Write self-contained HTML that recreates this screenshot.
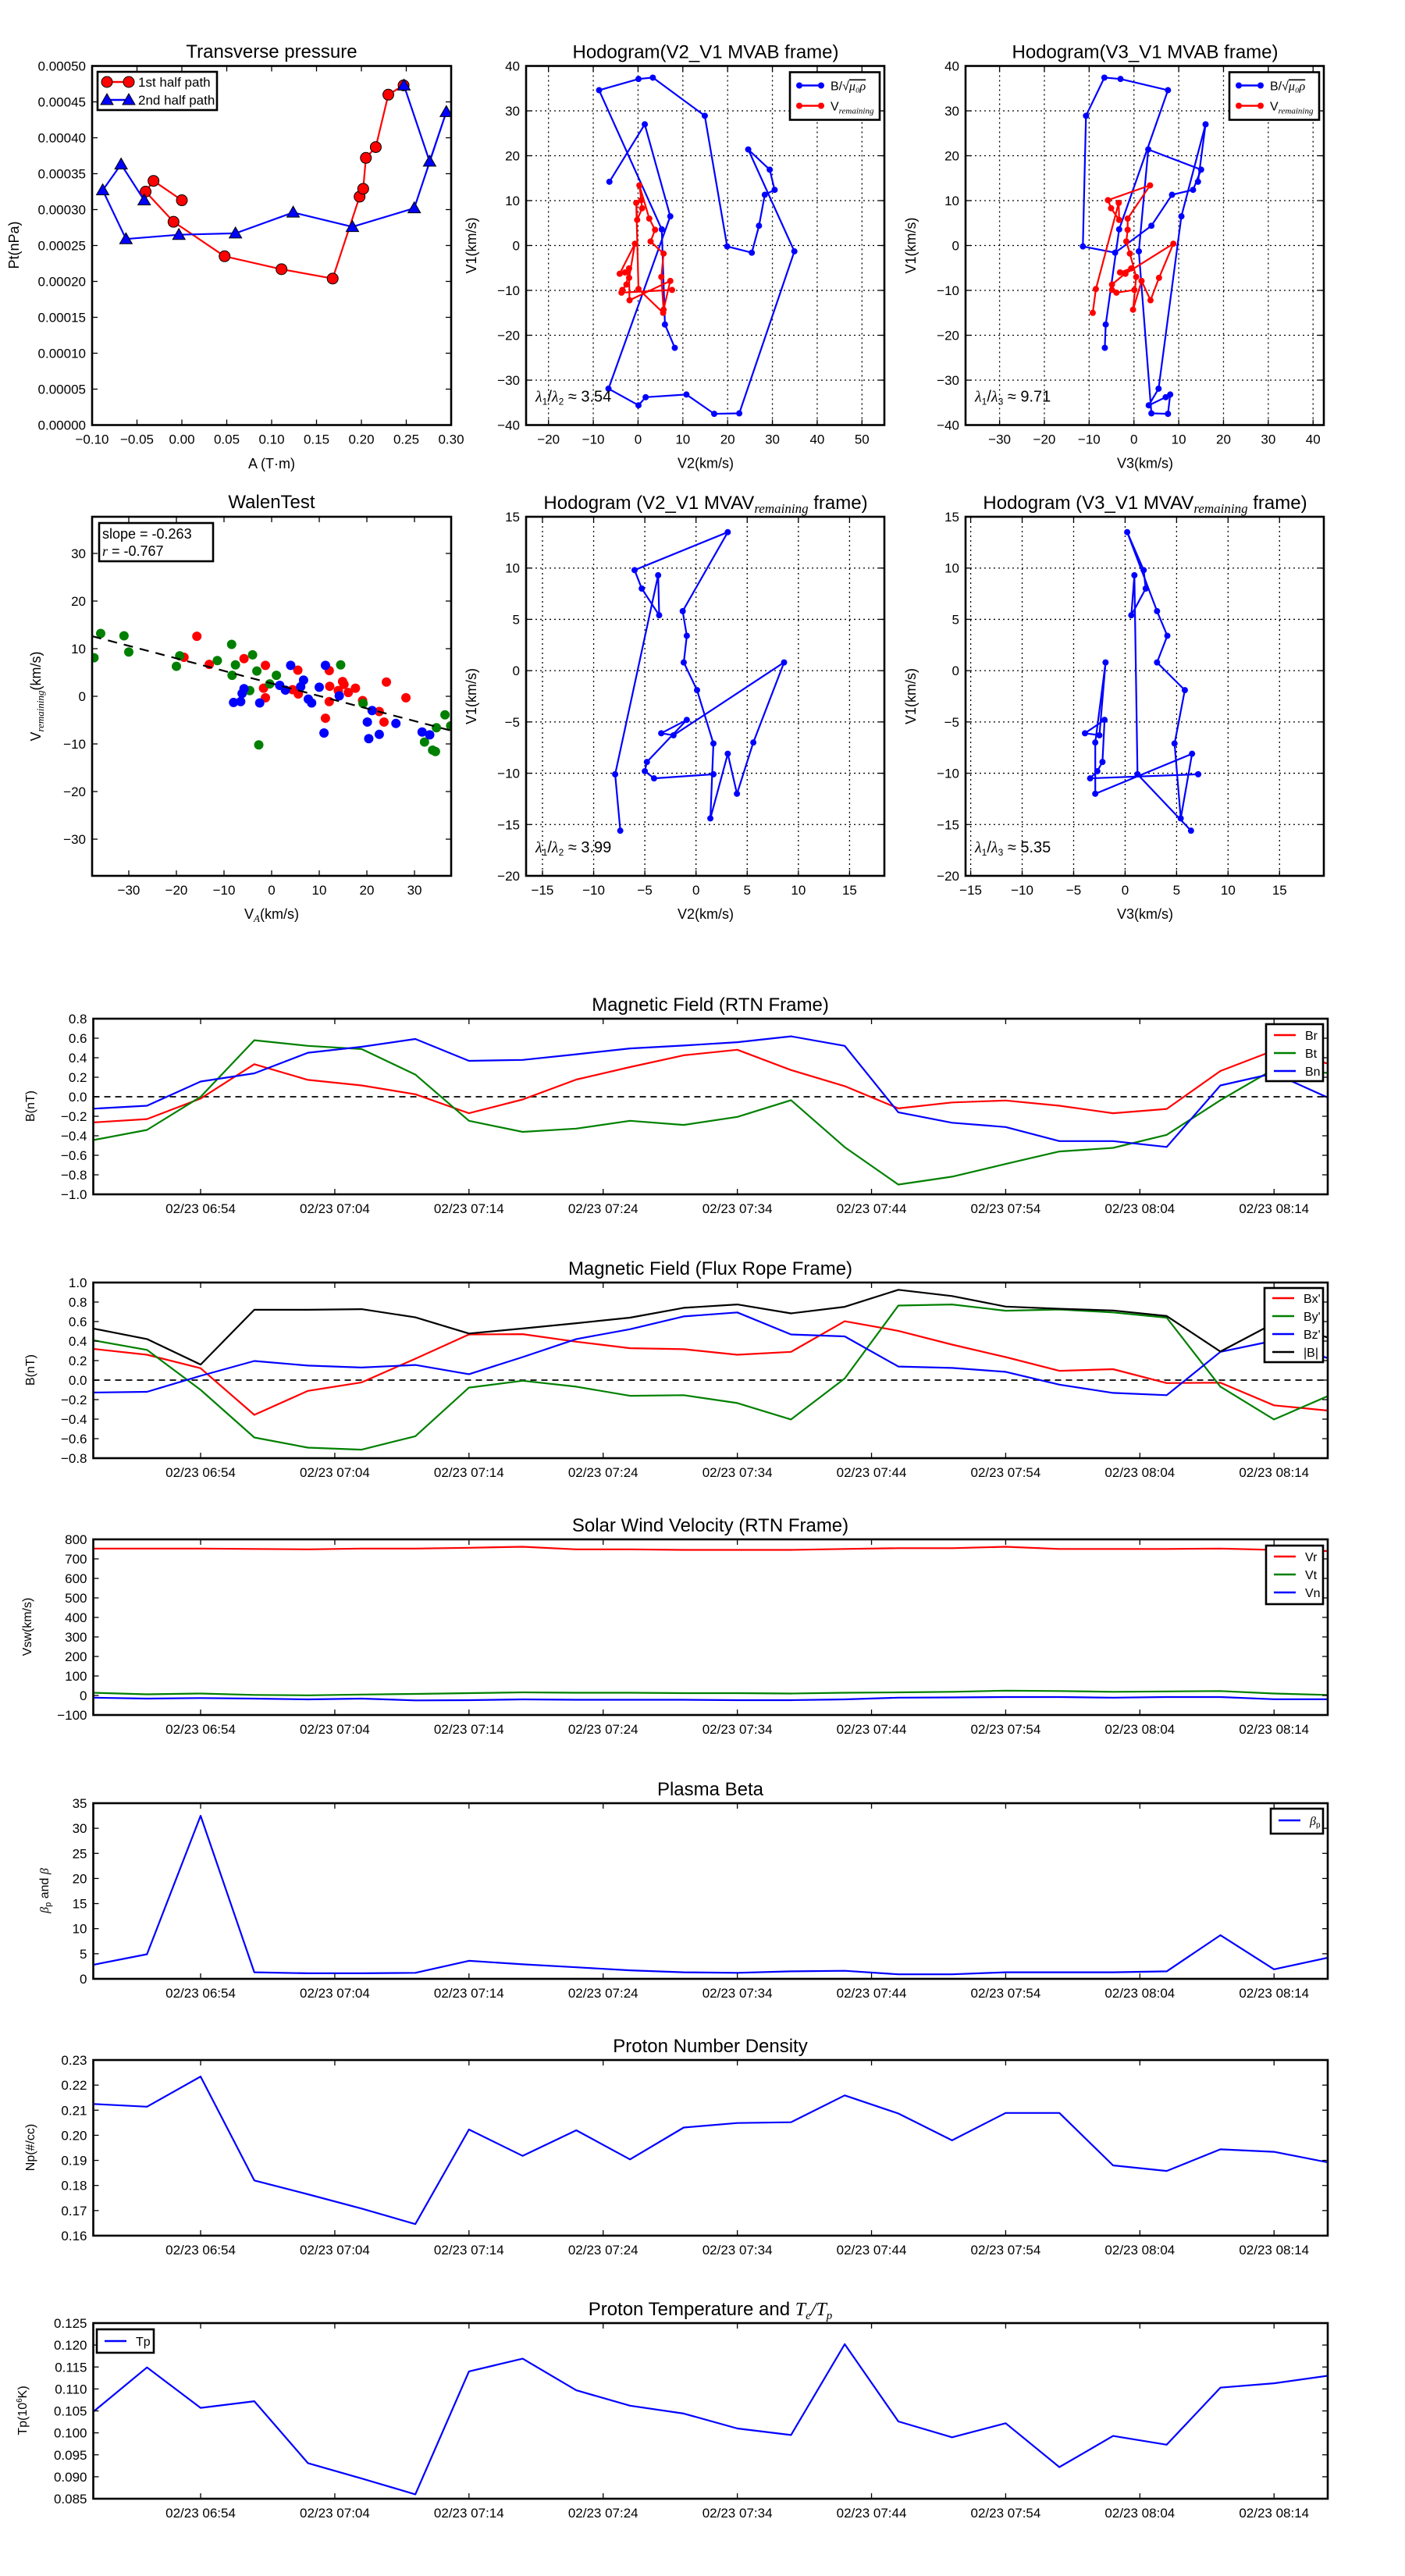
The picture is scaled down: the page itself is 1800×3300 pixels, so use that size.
<!DOCTYPE html>
<html><head><meta charset="utf-8"><title>Flux rope analysis</title>
<style>
html,body{margin:0;padding:0;background:#fff;}
svg{display:block;font-family:"Liberation Sans","DejaVu Sans",sans-serif;}
</style></head>
<body>
<svg id="fig" width="1800" height="3300" viewBox="0 0 1800 3300" xmlns="http://www.w3.org/2000/svg">
<rect x="0" y="0" width="1800" height="3300" fill="#fff"/>
</svg>
<script>
// ---------- Transverse pressure ----------
const tpRedA = [0.0,-0.0316,-0.0404,-0.0093,0.0476,0.111,0.168,0.198,0.202,0.205,0.216,0.230,0.247];
const tpRedP = [0.000313,0.000340,0.000325,0.000283,0.000235,0.000217,0.000204,0.000318,0.000329,0.000372,0.000387,0.000460,0.000473];
const tpBlueA = [0.2474,0.276,0.2946,0.2589,0.190,0.124,0.0597,-0.0033,-0.0623,-0.0882,-0.0677,-0.042];
const tpBlueP = [0.000473,0.000367,0.000436,0.000302,0.000276,0.000296,0.000267,0.000265,0.000259,0.000327,0.000363,0.000313];
// ---------- Hodogram MVAB (B components) ----------
const bV2 = [-6.4,1.5,7.2,-6.6,0.1,1.7,10.8,17.0,22.6,34.9,24.6,29.4,30.5,28.3,27.0,25.4,19.9,14.9,3.3,0.1,-8.7,5.3,6.0,8.2];
const bV3 = [14.3,16.0,10.6,5.5,3.3,7.1,8.1,7.6,3.9,1.1,3.2,15.0,13.2,8.5,3.9,-4.2,-11.4,-10.7,-6.6,-3.0,7.6,-3.3,-6.3,-6.5];
const bV1 = [14.2,27.0,6.5,-31.9,-35.6,-33.8,-33.2,-37.5,-37.4,-1.3,21.4,16.9,12.4,11.3,4.4,-1.6,-0.2,28.9,37.4,37.1,34.6,3.6,-17.6,-22.8];
const vrV2 = [5.6,0.1,-0.4,-0.2,0.9,0.7,0.3,2.5,3.8,2.8,5.7,5.2,5.7,7.2,-1.9,-2.0,-0.7,-4.1,-2.9,-2.0,-2.6,-3.5,-3.7,7.6];
const vrV3 = [-9.2,-8.5,-3.4,-3.3,-5.1,-5.8,3.6,-1.4,-1.4,-1.7,-0.9,0.5,-0.2,1.7,3.7,5.6,8.8,-1.9,-3.1,-0.6,-4.9,-4.9,-3.9,0.1];
const vrV1 = [-15.0,-9.7,9.5,5.7,8.3,10.1,13.4,6.0,3.5,0.9,-1.8,-7.0,-14.3,-7.9,-12.2,-7.2,0.4,-6.3,-6.0,-5.1,-8.7,-9.9,-10.5,-9.9];
// ---------- Hodogram MVAV remaining ----------
const mvV2 = [-7.4,-7.9,-3.7,-3.6,-5.3,-6.0,3.1,-1.3,-0.9,-1.2,0.1,1.7,1.4,3.1,4.0,5.6,8.6,-2.2,-3.4,-0.9,-4.8,-5.0,-4.1,1.7];
const mvV3 = [6.4,1.2,0.9,0.6,2.0,1.8,0.2,3.1,4.1,3.1,5.8,4.8,5.4,6.5,-2.9,-2.9,-1.9,-2.5,-3.9,-2.0,-2.2,-2.7,-3.4,7.1];
const mvV1 = [-15.6,-10.1,9.3,5.4,8.0,9.8,13.5,5.8,3.4,0.8,-1.9,-7.1,-14.4,-8.1,-12.0,-7.0,0.8,-6.3,-6.1,-4.8,-8.9,-9.8,-10.5,-10.1];
// ---------- Walen test ----------
const wGreenX = [-37.3,-35.9,-31.0,-30.0,-20.0,-19.3,-11.4,-8.4,-8.3,-7.6,-4.6,-4.0,-3.1,-2.7,-0.4,1.0,14.5,19.2,32.1,33.8,34.4,34.6,36.4,37.6];
const wGreenY = [8.1,13.2,12.7,9.3,6.3,8.5,7.5,10.9,4.4,6.6,1.2,8.7,5.3,-10.2,2.6,4.4,6.6,-1.5,-9.6,-11.3,-11.6,-6.6,-3.9,-6.2];
const wRedX = [-18.4,-15.7,-13.1,-5.8,-1.7,-1.3,-1.3,4.4,5.5,5.6,11.3,12.1,12.2,12.1,14.0,14.9,15.2,16.1,17.6,19.1,22.6,23.6,24.1,28.2];
const wRedY = [8.2,12.6,6.7,7.9,1.7,6.5,-0.3,1.4,5.5,0.5,-4.6,5.4,2.1,-1.1,1.2,3.1,2.5,0.8,1.7,-0.9,-3.2,-5.4,3.0,-0.3];
const wBlueX = [-8.0,-6.5,-6.2,-5.8,-2.5,1.7,2.9,4.0,6.1,6.7,7.7,8.4,10.0,11.0,11.3,14.2,20.1,20.4,21.1,22.6,26.1,31.6,33.2];
const wBlueY = [-1.3,-1.1,0.6,1.6,-1.4,2.3,1.3,6.5,2.0,3.4,-0.6,-1.4,1.9,-7.7,6.5,0.1,-5.4,-8.9,-3.0,-8.0,-5.7,-7.5,-8.1];
const walenSlope = -0.263;
const walenIntercept = 2.7;
// ---------- Time series ----------
const times = ['06:46','06:50','06:54','06:58','07:02','07:06','07:10','07:14','07:18','07:22','07:26','07:30','07:34','07:38','07:42','07:46','07:50','07:54','07:58','08:02','08:06','08:10','08:14','08:18'];
const timeTicks = ['06:54','07:04','07:14','07:24','07:34','07:44','07:54','08:04','08:14'];
const Br = [-0.263,-0.229,-0.018,0.334,0.173,0.116,0.026,-0.169,-0.028,0.176,0.304,0.425,0.482,0.274,0.109,-0.119,-0.058,-0.038,-0.092,-0.169,-0.125,0.264,0.475,0.341];
const Bt = [-0.444,-0.340,-0.001,0.579,0.522,0.489,0.227,-0.246,-0.360,-0.326,-0.246,-0.289,-0.206,-0.035,-0.517,-0.900,-0.819,-0.689,-0.561,-0.524,-0.390,-0.035,0.284,0.244];
const Bn = [-0.122,-0.092,0.156,0.240,0.451,0.512,0.592,0.368,0.378,0.435,0.495,0.525,0.559,0.619,0.522,-0.159,-0.266,-0.310,-0.454,-0.454,-0.514,0.116,0.24,-0.008];
const Bx = [0.320,0.260,0.122,-0.356,-0.110,-0.023,0.219,0.468,0.471,0.394,0.327,0.317,0.260,0.290,0.603,0.505,0.364,0.236,0.095,0.112,-0.030,-0.026,-0.258,-0.312];
const By = [0.408,0.310,-0.100,-0.588,-0.692,-0.713,-0.575,-0.077,-0.006,-0.067,-0.161,-0.154,-0.235,-0.403,0.017,0.764,0.775,0.711,0.724,0.694,0.640,-0.067,-0.403,-0.164];
const Bz = [-0.127,-0.120,0.044,0.196,0.149,0.129,0.155,0.061,0.236,0.421,0.522,0.653,0.694,0.468,0.448,0.139,0.125,0.085,-0.046,-0.131,-0.154,0.290,0.404,0.226];
const Bmag = [0.529,0.421,0.159,0.721,0.721,0.727,0.643,0.478,0.529,0.583,0.640,0.741,0.775,0.684,0.751,0.926,0.862,0.754,0.731,0.714,0.657,0.293,0.583,0.438];
const Vr = [753,753,753,751,749,753,753,757,762,749,749,746,746,746,751,755,755,762,751,751,751,753,746,740];
const Vt = [14,6,10,3,1,5,8,12,16,14,14,12,12,10,14,16,19,25,23,19,21,23,10,3];
const Vn = [-11,-16,-13,-16,-20,-16,-25,-24,-20,-22,-22,-22,-24,-24,-20,-11,-10,-8,-8,-11,-8,-8,-19,-19];
const betaP = [2.8,4.9,32.5,1.3,1.1,1.1,1.2,3.6,2.9,2.3,1.7,1.3,1.2,1.5,1.6,0.9,0.9,1.3,1.3,1.3,1.5,8.7,1.9,4.2];
const Np = [0.2125,0.2114,0.2234,0.1820,0.1765,0.1708,0.1646,0.2023,0.1918,0.2020,0.1904,0.2031,0.2049,0.2052,0.2159,0.2087,0.1980,0.2089,0.2089,0.1880,0.1858,0.1944,0.1934,0.1892];
const Tp = [0.1048,0.1149,0.1057,0.1072,0.0931,0.0896,0.0860,0.1140,0.1169,0.1097,0.1062,0.1044,0.1010,0.0995,0.1202,0.1026,0.0990,0.1022,0.0922,0.0993,0.0973,0.1103,0.1113,0.1130];

const NS='http://www.w3.org/2000/svg';
const svg=document.getElementById('fig');
let clipId=0;
function mk(tag, attrs, parent){
  const e=document.createElementNS(NS,tag);
  for(const k in attrs) e.setAttribute(k, attrs[k]);
  (parent||svg).appendChild(e);
  return e;
}
function tag(e, name, inter){
  
  
  return e;
}
function txt(parent, x, y, s, size, anchor, name, extra){
  const t=mk('text', Object.assign({x:x, y:y, 'font-size':size, 'text-anchor':anchor||'middle', fill:'#000'}, extra||{}), parent);
  t.textContent=s;
  tag(t, name);
  return t;
}
function mins(s){ const p=s.split(':'); return (+p[0])*60+(+p[1]); }
function fmtMinus(s){ return s.replace('-', '\u2212'); }

function makeAxes(c){
  const g=mk('g',{}); tag(g, c.name+'-panel');
  const sx=v=>c.x+(v-c.xd[0])/(c.xd[1]-c.xd[0])*c.w;
  const sy=v=>c.y+c.h-(v-c.yd[0])/(c.yd[1]-c.yd[0])*c.h;
  const id='clip'+(clipId++);
  const cp=mk('clipPath',{id:id},g);
  mk('rect',{x:c.x,y:c.y,width:c.w,height:c.h},cp);
  if(c.grid){
    c.xt.forEach(v=>{ const l=mk('line',{x1:sx(v),x2:sx(v),y1:c.y,y2:c.y+c.h,stroke:'#000','stroke-width':1.3,'stroke-dasharray':'2,4'},g); tag(l,'grid-line-x'); });
    c.yt.forEach(v=>{ const l=mk('line',{x1:c.x,x2:c.x+c.w,y1:sy(v),y2:sy(v),stroke:'#000','stroke-width':1.3,'stroke-dasharray':'2,4'},g); tag(l,'grid-line-y'); });
  }
  const data=mk('g',{'clip-path':'url(#'+id+')'},g); tag(data, c.name+'-plot-area');
  const ticks=mk('g',{},g); tag(ticks, c.name+'-ticks');
  const fs=c.fs||17;
  c.xt.forEach((v,i)=>{
    const X=sx(v);
    mk('line',{x1:X,x2:X,y1:c.y+c.h,y2:c.y+c.h-7,stroke:'#000','stroke-width':1.3},ticks);
    mk('line',{x1:X,x2:X,y1:c.y,y2:c.y+7,stroke:'#000','stroke-width':1.3},ticks);
    txt(ticks, X, c.y+c.h+24, c.xl[i], fs, 'middle', 'x-tick-label');
  });
  c.yt.forEach((v,i)=>{
    const Y=sy(v);
    mk('line',{x1:c.x,x2:c.x+7,y1:Y,y2:Y,stroke:'#000','stroke-width':1.3},ticks);
    mk('line',{x1:c.x+c.w,x2:c.x+c.w-7,y1:Y,y2:Y,stroke:'#000','stroke-width':1.3},ticks);
    txt(ticks, c.x-8, Y+6, c.yl[i], fs, 'end', 'y-tick-label');
  });
  return {g, data, sx, sy, c};
}
function frame(a){
  const r=mk('rect',{x:a.c.x,y:a.c.y,width:a.c.w,height:a.c.h,fill:'none',stroke:'#000','stroke-width':2.6},a.g);
  tag(r, a.c.name+'-frame');
}
function line(a, xs, ys, color, w, name){
  const d=xs.map((x,i)=>(i?'L':'M')+a.sx(x).toFixed(1)+','+a.sy(ys[i]).toFixed(1)).join('');
  const p=mk('path',{d:d,fill:'none',stroke:color,'stroke-width':w,'stroke-linejoin':'round'},a.data);
  tag(p, name);
  return p;
}
function dots(a, xs, ys, color, r, name, stroke){
  xs.forEach((x,i)=>{
    const e=mk('circle',{cx:a.sx(x),cy:a.sy(ys[i]),r:r,fill:color,stroke:stroke||'none','stroke-width':1},a.data);
    tag(e, name);
  });
}
function tris(a, xs, ys, color, s, name){
  xs.forEach((x,i)=>{
    const X=a.sx(x), Y=a.sy(ys[i]);
    const e=mk('polygon',{points:`${X},${Y-s} ${X-s},${Y+s*0.75} ${X+s},${Y+s*0.75}`,fill:color,stroke:'#000','stroke-width':1},a.data);
    tag(e, name);
  });
}
function ticksRange(a,b,st){ const r=[]; for(let v=a; v<=b+1e-9; v+=st) r.push(+v.toFixed(6)); return r; }
function title(x, y, s, name){ return txt(svg, x, y, s, 24, 'middle', name); }
function ylab(x, y, s, size, name){
  const t=txt(svg, 0, 0, s, size||18, 'middle', name);
  t.setAttribute('transform',`translate(${x},${y}) rotate(-90)`);
  return t;
}
function legendBox(x,y,w,h,name){
  const r=mk('rect',{x:x,y:y,width:w,height:h,fill:'#fff',stroke:'#000','stroke-width':2.6});
  tag(r,name);
}
function legendEntry(x,y,color,label,marker,size,name){
  const g=mk('g',{}); tag(g,name);
  mk('line',{x1:x,x2:x+28,y1:y,y2:y,stroke:color,'stroke-width':2.6},g);
  if(marker==='o'){ mk('circle',{cx:x,cy:y,r:7,fill:color,stroke:'#000'},g); mk('circle',{cx:x+28,cy:y,r:7,fill:color,stroke:'#000'},g); }
  if(marker==='^'){ [x,x+28].forEach(X=>mk('polygon',{points:`${X},${y-8} ${X-8},${y+6} ${X+8},${y+6}`,fill:color,stroke:'#000'},g)); }
  if(marker==='d'){ mk('circle',{cx:x,cy:y,r:4,fill:color},g); mk('circle',{cx:x+28,cy:y,r:4,fill:color},g); }
  const t=txt(g, x+40, y+6, '', size||14, 'start', 'legend-label');
  t.innerHTML=label;
  return g;
}

// ===== Transverse pressure =====
(function(){
  const xt=ticksRange(-0.10,0.30,0.05), yt=ticksRange(0,0.0005,0.00005);
  const a=makeAxes({name:'transverse-pressure',x:118,y:84.5,w:460,h:460,xd:[-0.10,0.30],yd:[0,0.0005],xt:xt,yt:yt,
    xl:xt.map(v=>fmtMinus(v.toFixed(2))), yl:yt.map(v=>v.toFixed(5))});
  line(a,tpRedA,tpRedP,'#ff0000',2.2,'first-half-path-line');
  dots(a,tpRedA,tpRedP,'#ff0000',7,'first-half-marker','#000');
  line(a,tpBlueA,tpBlueP,'#0000ff',2.2,'second-half-path-line');
  tris(a,tpBlueA,tpBlueP,'#0000ff',8,'second-half-marker');
  frame(a);
  title(348,74,'Transverse pressure','transverse-pressure-title');
  txt(svg,348,600,'A (T\u00b7m)',18,'middle','x-axis-title');
  ylab(24,314,'Pt(nPa)',18,'y-axis-title');
  legendBox(125,92,153,49,'legend');
  legendEntry(137,105,'#ff0000','1st half path','o',17,'legend-entry-first-half');
  legendEntry(137,128,'#0000ff','2nd half path','^',17,'legend-entry-second-half');
})();

// ===== Hodograms =====
function hodogram(cfg){
  const a=makeAxes({name:cfg.name,x:cfg.x,y:cfg.y,w:459,h:460,xd:cfg.xd,yd:cfg.yd,xt:cfg.xt,yt:cfg.yt,grid:true,
    xl:cfg.xt.map(v=>fmtMinus(String(v))), yl:cfg.yt.map(v=>fmtMinus(String(v)))});
  cfg.series.forEach(s=>{ line(a,s.x,s.y,s.c,2.2,s.n+'-line'); dots(a,s.x,s.y,s.c,4,s.n+'-point'); });
  frame(a);
  title(cfg.x+230,cfg.y-10,'', cfg.name+'-title').innerHTML=cfg.title;
  txt(svg,cfg.x+230,cfg.y+515,cfg.xlabel,18,'middle',cfg.name+'-x-axis-title');
  ylab(cfg.x-64,cfg.y+230,'V1(km/s)',18,cfg.name+'-y-axis-title');
  const lt=txt(svg,cfg.x+12,cfg.y+430,'',20,'start',cfg.name+'-eigen-ratio');
  lt.innerHTML=cfg.lam;
  if(cfg.legend){
    legendBox(cfg.x+338,cfg.y+8,115,61,cfg.name+'-legend');
    legendEntry(cfg.x+350,cfg.y+25,'#0000ff','B/\u221a<tspan font-family="Liberation Serif" font-style="italic" text-decoration="overline">\u03bc\u2080\u03c1</tspan>','d',16,'legend-entry-b');
    legendEntry(cfg.x+350,cfg.y+51,'#ff0000','V<tspan font-family="Liberation Serif" font-style="italic" font-size="11" dy="4">remaining</tspan>','d',16,'legend-entry-v');
  }
}
const lam12='<tspan font-family="Liberation Serif" font-style="italic">\u03bb</tspan><tspan font-size="12" dy="4">1</tspan><tspan dy="-4">/</tspan><tspan font-family="Liberation Serif" font-style="italic">\u03bb</tspan><tspan font-size="12" dy="4">2</tspan><tspan dy="-4"> \u2248 </tspan>';
const lam13='<tspan font-family="Liberation Serif" font-style="italic">\u03bb</tspan><tspan font-size="12" dy="4">1</tspan><tspan dy="-4">/</tspan><tspan font-family="Liberation Serif" font-style="italic">\u03bb</tspan><tspan font-size="12" dy="4">3</tspan><tspan dy="-4"> \u2248 </tspan>';
const remSub='<tspan font-family="Liberation Serif" font-style="italic" font-size="17" dy="5">remaining</tspan><tspan dy="-5">';
hodogram({name:'hodogram-v2-v1-mvab',x:674,y:84.5,xd:[-25,55],yd:[-40,40],xt:ticksRange(-20,50,10),yt:ticksRange(-40,40,10),
  series:[{x:bV2,y:bV1,c:'#0000ff',n:'b-field'},{x:vrV2,y:vrV1,c:'#ff0000',n:'v-remaining'}],
  title:'Hodogram(V2_V1 MVAB frame)',xlabel:'V2(km/s)',lam:lam12+'3.54',legend:true});
hodogram({name:'hodogram-v3-v1-mvab',x:1237,y:84.5,xd:[-37.6,42.4],yd:[-40,40],xt:ticksRange(-30,40,10),yt:ticksRange(-40,40,10),
  series:[{x:bV3,y:bV1,c:'#0000ff',n:'b-field'},{x:vrV3,y:vrV1,c:'#ff0000',n:'v-remaining'}],
  title:'Hodogram(V3_V1 MVAB frame)',xlabel:'V3(km/s)',lam:lam13+'9.71',legend:true});
hodogram({name:'hodogram-v2-v1-mvav',x:674,y:662,xd:[-16.6,18.4],yd:[-20,15],xt:ticksRange(-15,15,5),yt:ticksRange(-20,15,5),
  series:[{x:mvV2,y:mvV1,c:'#0000ff',n:'v-remaining'}],
  title:'Hodogram (V2_V1 MVAV'+remSub+' frame)</tspan>',xlabel:'V2(km/s)',lam:lam12+'3.99',legend:false});
hodogram({name:'hodogram-v3-v1-mvav',x:1237,y:662,xd:[-15.5,19.3],yd:[-20,15],xt:ticksRange(-15,15,5),yt:ticksRange(-20,15,5),
  series:[{x:mvV3,y:mvV1,c:'#0000ff',n:'v-remaining'}],
  title:'Hodogram (V3_V1 MVAV'+remSub+' frame)</tspan>',xlabel:'V3(km/s)',lam:lam13+'5.35',legend:false});

// ===== Walen test =====
(function(){
  const xt=ticksRange(-30,30,10), yt=ticksRange(-30,30,10);
  const a=makeAxes({name:'walen-test',x:118,y:662,w:460,h:460,xd:[-37.7,37.7],yd:[-37.7,37.7],xt:xt,yt:yt,
    xl:xt.map(v=>fmtMinus(String(v))), yl:yt.map(v=>fmtMinus(String(v)))});
  dots(a,wRedX,wRedY,'#ff0000',6,'walen-point-red');
  dots(a,wGreenX,wGreenY,'#008000',6,'walen-point-green');
  dots(a,wBlueX,wBlueY,'#0000ff',6,'walen-point-blue');
  const fx=[-37.7,37.7];
  const p=line(a,fx,fx.map(v=>walenSlope*v+walenIntercept),'#000',2.2,'walen-fit-line');
  p.setAttribute('stroke-dasharray','12,9');
  frame(a);
  title(348,651,'WalenTest','walen-test-title');
  const xl=txt(svg,348,1177,'',18,'middle','x-axis-title');
  xl.innerHTML='V<tspan font-family="Liberation Serif" font-style="italic" font-size="13" dy="4">A</tspan><tspan dy="-4">(km/s)</tspan>';
  const yl=ylab(52,892,'',18,'y-axis-title');
  yl.innerHTML='V<tspan font-family="Liberation Serif" font-style="italic" font-size="13" dy="4">remaining</tspan><tspan dy="-4">(km/s)</tspan>';
  legendBox(127,670,146,49,'walen-stats-box');
  txt(svg,131,690,'slope = -0.263',18,'start','walen-slope');
  const r=txt(svg,131,712,'',18,'start','walen-r');
  r.innerHTML='<tspan font-family="Liberation Serif" font-style="italic">r</tspan> = -0.767';
})();

// ===== Time series panels =====
const tMin=times.map(mins), tTick=timeTicks.map(mins);
function tsPanel(cfg){
  const yl=cfg.yt.map(v=>fmtMinus(v.toFixed(cfg.dec)));
  const a=makeAxes({name:cfg.name,x:119.5,y:cfg.y,w:1581.5,h:225,xd:[tMin[0],tMin[tMin.length-1]],yd:cfg.yd,xt:tTick,yt:cfg.yt,
    xl:timeTicks.map(s=>'02/23 '+s), yl:yl});
  if(cfg.zero){ const z=line(a,[tMin[0],tMin[tMin.length-1]],[0,0],'#000',1.8,'zero-line'); z.setAttribute('stroke-dasharray','8,6'); }
  cfg.series.forEach(s=>line(a,tMin,s.v,s.c,2.2,s.n+'-line'));
  frame(a);
  title(910,cfg.y-10,'',cfg.name+'-title').innerHTML=cfg.title;
  const y=ylab(cfg.ylx||44,cfg.y+112,'',16,cfg.name+'-y-axis-title'); y.innerHTML=cfg.ylabel;
  if(cfg.leg){
    const L=cfg.leg;
    legendBox(L.x,cfg.y+L.dy,L.w,L.h,cfg.name+'-legend');
    cfg.series.forEach((s,i)=>legendEntry(L.x+10,cfg.y+L.dy+L.first+i*L.step,s.c,s.label,'',16,'legend-entry-'+s.n));
  }
}
tsPanel({name:'magnetic-field-rtn',y:1305,yd:[-1,0.8],yt:ticksRange(-1,0.8,0.2),dec:1,zero:true,
  series:[{v:Br,c:'#ff0000',n:'br',label:'Br'},{v:Bt,c:'#008000',n:'bt',label:'Bt'},{v:Bn,c:'#0000ff',n:'bn',label:'Bn'}],
  title:'Magnetic Field (RTN Frame)',ylabel:'B(nT)',leg:{x:1622,dy:7,w:73,h:73,step:23,first:14}});
tsPanel({name:'magnetic-field-flux-rope',y:1643,yd:[-0.8,1.0],yt:ticksRange(-0.8,1.0,0.2),dec:1,zero:true,
  series:[{v:Bx,c:'#ff0000',n:'bx',label:"Bx'"},{v:By,c:'#008000',n:'by',label:"By'"},{v:Bz,c:'#0000ff',n:'bz',label:"Bz'"},{v:Bmag,c:'#000',n:'bmag',label:'|B|'}],
  title:'Magnetic Field (Flux Rope Frame)',ylabel:'B(nT)',leg:{x:1620,dy:7,w:75,h:95,step:23,first:13}});
tsPanel({name:'solar-wind-velocity',y:1972,yd:[-100,800],yt:ticksRange(-100,800,100),dec:0,
  series:[{v:Vr,c:'#ff0000',n:'vr',label:'Vr'},{v:Vt,c:'#008000',n:'vt',label:'Vt'},{v:Vn,c:'#0000ff',n:'vn',label:'Vn'}],
  title:'Solar Wind Velocity (RTN Frame)',ylabel:'Vsw(km/s)',ylx:40,leg:{x:1622,dy:8,w:73,h:75,step:23,first:14}});
tsPanel({name:'plasma-beta',y:2310,yd:[0,35],yt:ticksRange(0,35,5),dec:0,
  series:[{v:betaP,c:'#0000ff',n:'beta-p',label:'<tspan font-family="Liberation Serif" font-style="italic">\u03b2</tspan><tspan font-size="10" dy="3">p</tspan>'}],
  title:'Plasma Beta',ylabel:'<tspan font-family="Liberation Serif" font-style="italic">\u03b2</tspan><tspan font-size="11" dy="3">p</tspan><tspan dy="-3"> and </tspan><tspan font-family="Liberation Serif" font-style="italic">\u03b2</tspan>',ylx:62,leg:{x:1628,dy:7,w:67,h:32,step:22,first:15}});
tsPanel({name:'proton-number-density',y:2639,yd:[0.16,0.23],yt:ticksRange(0.16,0.23,0.01),dec:2,
  series:[{v:Np,c:'#0000ff',n:'np',label:'Np'}],
  title:'Proton Number Density',ylabel:'Np(#/cc)'});
tsPanel({name:'proton-temperature',y:2976,yd:[0.085,0.125],yt:ticksRange(0.085,0.125,0.005),dec:3,
  series:[{v:Tp,c:'#0000ff',n:'tp',label:'Tp'}],
  title:'Proton Temperature and <tspan font-family="Liberation Serif" font-style="italic">T</tspan><tspan font-family="Liberation Serif" font-style="italic" font-size="15" dy="5">e</tspan><tspan dy="-5" font-family="Liberation Serif" font-style="italic">/T</tspan><tspan font-family="Liberation Serif" font-style="italic" font-size="15" dy="5">p</tspan>',
  ylabel:'Tp(10<tspan font-size="10" dy="-6">6</tspan><tspan dy="6">K)</tspan>',ylx:34,leg:{x:124,dy:8,w:73,h:30,step:22,first:15}});
</script>
</body></html>
